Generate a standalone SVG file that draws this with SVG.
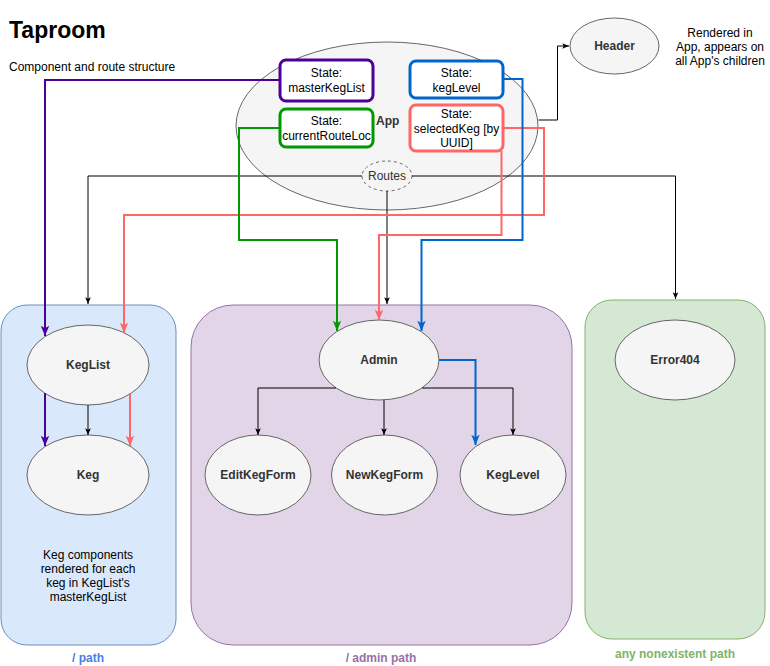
<svg xmlns="http://www.w3.org/2000/svg" width="770" height="666" viewBox="0 0 770 666">
<style>
text{font-family:"Liberation Sans",Arial,sans-serif;font-size:12px;fill:#000}
.b{font-weight:bold}
.n{fill:#f5f5f5;stroke:#666;stroke-width:1}
.nt{font-weight:bold;fill:#333;text-anchor:middle}
.st{fill:#fff;stroke-width:3}
.c{text-anchor:middle}
.k{fill:none;stroke:#000;stroke-width:1}
.p{fill:none;stroke:#4C0099;stroke-width:2}
.g{fill:none;stroke:#009900;stroke-width:2}
.bl{fill:none;stroke:#0066CC;stroke-width:2}
.r{fill:none;stroke:#FF6666;stroke-width:2}
</style>
<defs>
<marker id="ak" viewBox="0 0 10 10" refX="9.5" refY="5" markerWidth="8" markerHeight="8" orient="auto" markerUnits="userSpaceOnUse"><path d="M1,1.5 L9.5,5 L1,8.5 L3,5 z" fill="#000"/></marker>
<marker id="ap" viewBox="0 0 10 10" refX="9.5" refY="5" markerWidth="12" markerHeight="12" orient="auto" markerUnits="userSpaceOnUse"><path d="M1,1.5 L9.5,5 L1,8.5 L3,5 z" fill="#4C0099"/></marker>
<marker id="ag" viewBox="0 0 10 10" refX="9.5" refY="5" markerWidth="12" markerHeight="12" orient="auto" markerUnits="userSpaceOnUse"><path d="M1,1.5 L9.5,5 L1,8.5 L3,5 z" fill="#009900"/></marker>
<marker id="ab" viewBox="0 0 10 10" refX="9.5" refY="5" markerWidth="12" markerHeight="12" orient="auto" markerUnits="userSpaceOnUse"><path d="M1,1.5 L9.5,5 L1,8.5 L3,5 z" fill="#0066CC"/></marker>
<marker id="ar" viewBox="0 0 10 10" refX="9.5" refY="5" markerWidth="12" markerHeight="12" orient="auto" markerUnits="userSpaceOnUse"><path d="M1,1.5 L9.5,5 L1,8.5 L3,5 z" fill="#FF6666"/></marker>
</defs>
<rect width="770" height="666" fill="#fff"/>
<g id="title">
<text x="9" y="38" class="b" style="font-size:23px">Taproom</text>
<text x="9" y="71">Component and route structure</text>
</g>
<g id="lane-root">
<rect x="1" y="305" width="175" height="340" rx="26" fill="#dae8fc" stroke="#6c8ebf"/>
<text x="88" y="662" class="b c" style="fill:#4C7CE0">/ path</text>
<text x="88" y="559" class="c">Keg components</text>
<text x="88" y="573" class="c">rendered for each</text>
<text x="88" y="587" class="c">keg in KegList's</text>
<text x="88" y="601" class="c">masterKegList</text>
</g>
<g id="lane-admin">
<rect x="191" y="305" width="381" height="340" rx="42" fill="#e1d5e7" stroke="#9673a6"/>
<text x="381" y="662" class="b c" style="fill:#9673a6">/ admin path</text>
</g>
<g id="lane-404">
<rect x="585" y="300" width="180" height="339" rx="27" fill="#d5e8d4" stroke="#82b366"/>
<text x="675" y="658" class="b c" style="fill:#82b366">any nonexistent path</text>
</g>
<g id="app">
<ellipse cx="387" cy="126" rx="151" ry="84" class="n"/>
<text x="376" y="125" class="b" style="fill:#333">App</text>
</g>
<g id="state-masterKegList">
<rect x="280" y="60" width="93" height="41" rx="6" class="st" stroke="#4C0099"/>
<text x="326.5" y="77" class="c">State:</text>
<text x="326.5" y="92" class="c">masterKegList</text>
</g>
<g id="state-kegLevel">
<rect x="410" y="61" width="93" height="37" rx="6" class="st" stroke="#0066CC"/>
<text x="456.5" y="77" class="c">State:</text>
<text x="456.5" y="92" class="c">kegLevel</text>
</g>
<g id="state-currentRouteLoc">
<rect x="280" y="109" width="93" height="38" rx="6" class="st" stroke="#009900"/>
<text x="326.5" y="125" class="c">State:</text>
<text x="326.5" y="140" class="c">currentRouteLoc</text>
</g>
<g id="state-selectedKeg">
<rect x="410" y="105" width="93" height="46" rx="6" class="st" stroke="#FF6666"/>
<text x="456.5" y="118" class="c">State:</text>
<text x="456.5" y="133" class="c">selectedKeg [by</text>
<text x="456.5" y="147" class="c">UUID]</text>
</g>
<g id="routes">
<ellipse cx="387" cy="176" rx="25" ry="15" fill="#f5f5f5" stroke="#666" stroke-dasharray="3 3"/>
<text x="387" y="180" class="c" style="fill:#333">Routes</text>
</g>
<g id="header">
<ellipse cx="614.5" cy="46" rx="44.5" ry="28" class="n"/>
<text x="614.5" y="50" class="nt">Header</text>
</g>
<g id="header-note">
<text x="720" y="37" class="c">Rendered in</text>
<text x="720" y="51" class="c">App, appears on</text>
<text x="720" y="65" class="c">all App's children</text>
</g>
<g id="keglist">
<ellipse cx="88" cy="365" rx="61" ry="40" class="n"/>
<text x="88" y="369" class="nt">KegList</text>
</g>
<g id="keg">
<ellipse cx="88" cy="475" rx="61" ry="40" class="n"/>
<text x="88" y="479" class="nt">Keg</text>
</g>
<g id="admin">
<ellipse cx="379" cy="360" rx="60" ry="40" class="n"/>
<text x="379" y="364" class="nt">Admin</text>
</g>
<g id="editkegform">
<ellipse cx="258" cy="475" rx="53" ry="40" class="n"/>
<text x="258" y="479" class="nt">EditKegForm</text>
</g>
<g id="newkegform">
<ellipse cx="384.5" cy="475" rx="53" ry="40" class="n"/>
<text x="384.5" y="479" class="nt">NewKegForm</text>
</g>
<g id="keglevel">
<ellipse cx="513" cy="475" rx="53" ry="40" class="n"/>
<text x="513" y="479" class="nt">KegLevel</text>
</g>
<g id="error404">
<ellipse cx="675" cy="360" rx="60" ry="40" class="n"/>
<text x="675" y="364" class="nt">Error404</text>
</g>
<g id="connectors">
<path class="k" d="M538.5,120 H557.5 V46 H569" marker-end="url(#ak)"/>
<path class="k" d="M362,176 H88 V304" marker-end="url(#ak)"/>
<path class="k" d="M387,191 V304" marker-end="url(#ak)"/>
<path class="k" d="M412,176 H675.5 V299" marker-end="url(#ak)"/>
<path class="p" d="M280,80 H45 V336" marker-end="url(#ap)"/>
<path class="r" d="M503,128 H544 V215 H124 V333" marker-end="url(#ar)"/>
<path class="r" d="M501.5,151 V235 H379 V320" marker-end="url(#ar)"/>
<path class="bl" d="M503,79 H522.5 V240 H421.5 V331" marker-end="url(#ab)"/>
<path class="g" d="M280,128 H239 V240 H337 V331" marker-end="url(#ag)"/>
<path class="p" d="M45,393 V446" marker-end="url(#ap)"/>
<path class="r" d="M130,393 V446" marker-end="url(#ar)"/>
<path class="k" d="M88,405 V435" marker-end="url(#ak)"/>
<path class="k" d="M336,388 H258 V435" marker-end="url(#ak)"/>
<path class="k" d="M384,400 V435" marker-end="url(#ak)"/>
<path class="k" d="M422,388 H513 V435" marker-end="url(#ak)"/>
<path class="bl" d="M439,360 H475.5 V445" marker-end="url(#ab)"/>
</g>
</svg>
